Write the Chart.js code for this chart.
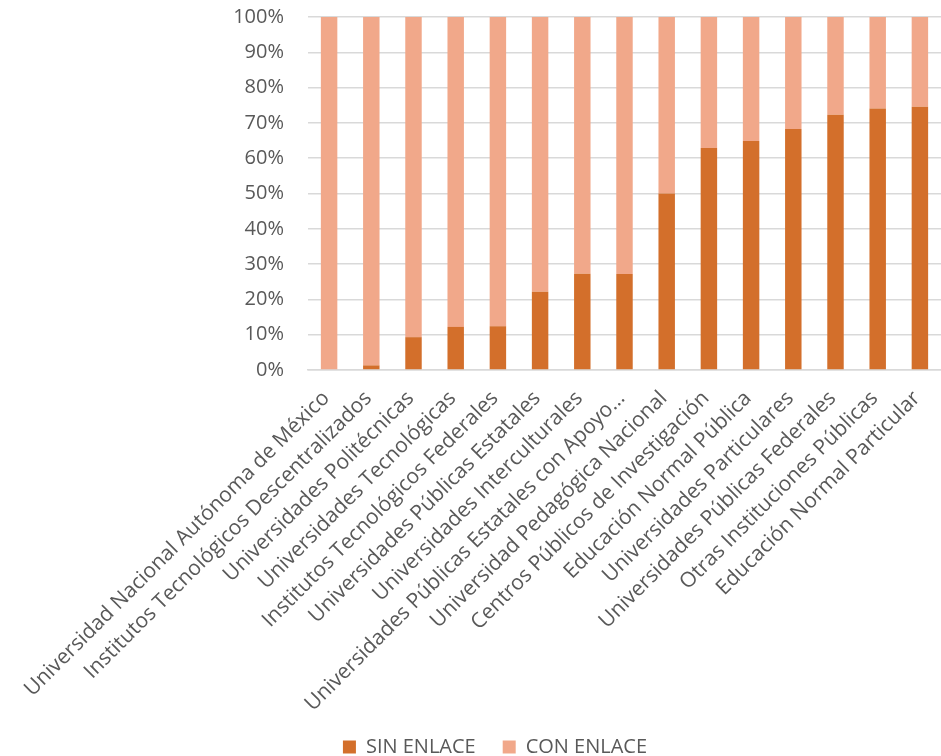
<!DOCTYPE html>
<html>
<head>
<meta charset="utf-8">
<script src="https://cdn.jsdelivr.net/npm/chart.js@4/dist/chart.umd.min.js"></script>
<style>
  html, body { margin: 0; padding: 0; background: #fff; overflow: hidden; }
  /* pulled up so the plot top sits where the reference has it */
  #wrap { position: relative; width: 941px; height: 786px; margin-top: -19px; }
</style>
</head>
<body>
<div id="wrap"><canvas id="chart"></canvas></div>
<script>
// --- Data ---
const categories = [
  'Universidad Nacional Autónoma de México',
  'Institutos Tecnológicos Descentralizados',
  'Universidades Politécnicas',
  'Universidades Tecnológicas',
  'Institutos Tecnológicos Federales',
  'Universidades Públicas Estatales',
  'Universidades Interculturales',
  'Universidades Públicas Estatales con Apoyo…',
  'Universidad Pedagógica Nacional',
  'Centros Públicos de Investigación',
  'Educación Normal Pública',
  'Universidades Particulares',
  'Universidades Públicas Federales',
  'Otras Instituciones Públicas',
  'Educación Normal Particular'
];
const sinEnlace = [0, 1.3, 9.3, 12.2, 12.4, 22.2, 27.3, 27.2, 50.0, 62.9, 64.9, 68.3, 72.3, 74.1, 74.6];
const conEnlace = sinEnlace.map(v => +(100 - v).toFixed(1));
const yTicks = [0, 10, 20, 30, 40, 50, 60, 70, 80, 90, 100];

const textColor = '#595959';
const gridColor = '#D9D9D9';
const font = 'Open Sans';

const ctx = document.getElementById('chart').getContext('2d');
new Chart(ctx, {
  type: 'bar',
  data: {
    labels: categories,
    datasets: [
      { label: 'SIN ENLACE', data: sinEnlace, backgroundColor: '#D36F2B', barPercentage: 0.39, categoryPercentage: 1 },
      { label: 'CON ENLACE', data: conEnlace, backgroundColor: '#F1A88A', barPercentage: 0.39, categoryPercentage: 1 }
    ]
  },
  options: {
    responsive: true,
    maintainAspectRatio: false,
    animation: false,
    // left padding shifts the legend centre to where the reference has it
    layout: { padding: { top: 0, right: 0, left: 49, bottom: 0 } },
    scales: {
      x: {
        stacked: true,
        grid: { display: false, drawTicks: false },
        border: { color: gridColor, width: 1.5 },
        ticks: {
          color: textColor,
          font: { family: font, size: 21 },
          minRotation: 45,
          maxRotation: 45,
          autoSkip: false,
          padding: 16,
          labelOffset: -3
        },
        afterFit: scale => {
          scale.height = 340;
          scale.paddingLeft = 0;
          scale.paddingRight = 0;
        }
      },
      y: {
        stacked: true,
        min: 0,
        max: 100,
        afterBuildTicks: scale => { scale.ticks = yTicks.map(v => ({ value: v })); },
        grid: { color: gridColor, lineWidth: 1.5, drawTicks: false },
        border: { display: false },
        ticks: {
          color: textColor,
          font: { family: font, size: 20 },
          padding: 24,
          callback: v => v + '%'
        },
        afterFit: scale => { scale.width = 259; }
      }
    },
    plugins: {
      legend: {
        position: 'bottom',
        labels: {
          color: textColor,
          font: { family: font, size: 20 },
          boxWidth: 13,
          boxHeight: 13,
          padding: 27
        }
      },
      tooltip: { enabled: false }
    }
  }
});
</script>
</body>
</html>
